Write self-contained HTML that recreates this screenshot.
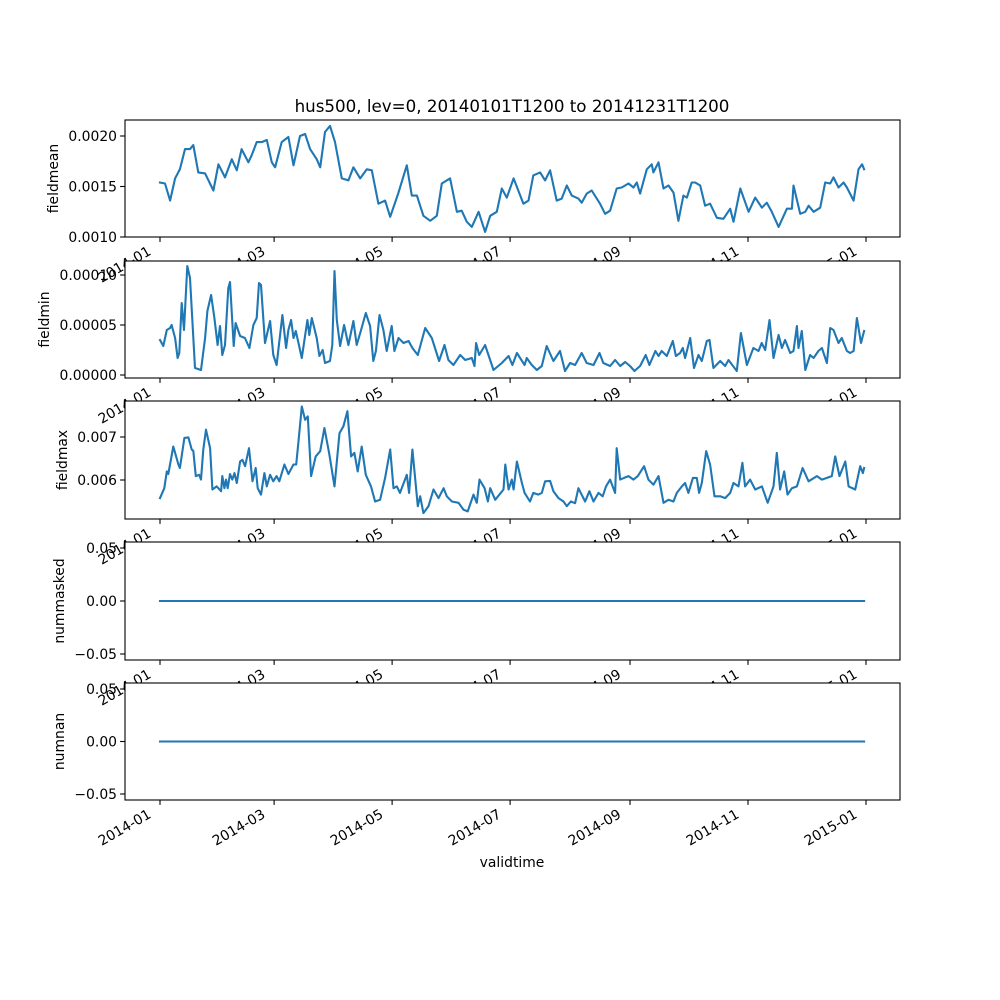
<!DOCTYPE html>
<html><head><meta charset="utf-8"><style>body{margin:0;background:#fff}svg{display:block;font-family:"DejaVu Sans","Liberation Sans",sans-serif}</style></head>
<body>
<svg id="fig" width="1000" height="1000" viewBox="0 0 1000 1000">
<rect width="1000" height="1000" fill="#fff"/>
</svg>
<script>
// fieldmean (units 1e-4)
const meanDays=[0,2.6,5.2,7.8,10.3,12.9,15.5,17.2,19.8,23.3,27.6,30.2,33.6,37.1,39.7,42.2,45.7,47.4,50,52.6,55.2,57.8,59.5,62.9,66.4,69,72.4,75,77.6,81,82.8,85.3,87.9,90.5,94,97.4,100,103.5,106.9,109.5,112.9,116.4,119,123.3,127.6,130.2,132.8,136.2,139.7,143.1,145.7,150,153.5,156,158.6,161.2,164.7,168.1,170.7,174.1,176.7,179.3,182.8,187.9,190.5,193,196.5,199.1,201.7,205.1,207.7,210.3,212.9,216.3,218,220.6,223.2,227.5,230.1,232.7,236.1,238.7,242.2,244.8,246.5,248.2,251.7,254.2,255.1,257.7,260.3,262.9,265.5,268,270.6,272.4,274.9,276.7,279.3,281.8,284.4,287.9,291.3,294.8,296.5,300,304.3,307.7,311.2,313.7,316.3,319.8,324.1,326.7,327.5,331,333.6,335.3,337.9,341.3,343.9,346.5,348.2,350.8,353.4,355.1,358.6,361.1,363,364];
const meanVals=[15.4,15.3,13.6,15.8,16.7,18.7,18.7,19.1,16.4,16.3,14.6,17.2,15.9,17.7,16.6,18.7,17.4,18.1,19.4,19.4,19.6,17.4,16.9,19.4,19.9,17.1,20.0,20.2,18.7,17.7,16.9,20.4,21.0,19.4,15.8,15.6,16.9,15.8,16.7,16.6,13.3,13.6,12.0,14.4,17.1,14.1,14.1,12.1,11.6,12.1,15.3,15.8,12.5,12.6,11.5,11.0,12.5,10.5,12.1,12.5,14.8,13.9,15.8,13.3,13.6,16.1,16.4,15.6,16.6,13.6,13.8,15.1,14.1,13.8,13.4,14.3,14.6,13.3,12.3,12.6,14.8,14.9,15.3,14.9,15.4,14.3,16.7,17.2,16.4,17.4,14.8,15.1,14.4,11.6,14.1,13.9,15.4,15.4,15.1,13.1,13.3,11.9,11.8,12.8,11.5,14.8,12.5,13.9,12.9,13.4,12.5,11.0,12.8,12.8,15.1,12.3,12.5,13.1,12.5,12.9,15.4,15.3,15.9,14.9,15.4,14.9,13.6,16.7,17.2,16.7];
// fieldmin (units 1e-5)
const minDays=[0,1.7,3.5,5.2,6,7.8,9.1,10,11.2,12.4,14.1,15.5,18.1,21.2,23.3,24.5,26.4,28.1,29.8,31,32.2,33.6,35.3,36.2,38.1,39.1,41.4,43.9,46.2,48.3,50,51.2,52.2,54.3,56.9,58.6,60.3,63.3,65.2,66.4,67.8,69,70.2,73.3,76.2,77.2,78.5,81,82.4,84.1,85.3,87.9,89.1,90.2,91.4,93.1,95.2,97.4,100,101.7,103.8,106.4,108.6,110.3,111.6,113.5,115.5,117.2,119.8,121.2,123.3,125.9,128.5,130.5,133.3,137.1,140.5,144.3,147.1,149.1,151.7,155.2,157.8,161.2,162.6,163.4,165,168.1,172.4,176.7,180.2,182.2,184.5,188.5,189.6,192.2,194.8,197.4,199.9,203.4,206.8,209.4,212,214.6,218,220.6,224.1,227.2,229.2,232.7,235.3,237.9,240.5,243,245.3,248.2,251.1,253,256.1,257.7,259.4,262,265.1,266.7,268.9,270.3,271.5,274.1,276.1,278.4,280.1,282.7,284.1,286.1,289.6,292.2,293.9,298.2,300.3,303.4,306.8,309.4,311.1,312.9,315.1,317.2,319.8,321.5,323.2,325.8,327.5,329.3,330.1,331.8,333.6,336.1,337.9,340.4,342.2,344.8,346.5,348.2,350.8,352.5,355.1,356.8,358.6,360.3,362.4,364];
const minVals=[3.5,2.9,4.5,4.7,5.0,3.7,1.7,2.2,7.2,4.5,10.9,9.7,0.7,0.5,3.7,6.4,8.0,5.7,3.0,4.9,2.0,3.0,8.7,9.3,2.9,5.2,3.9,3.7,2.7,5.0,5.7,9.2,9.0,3.2,5.4,2.0,1.0,6.0,2.7,4.5,5.5,3.7,4.4,1.7,5.5,4.0,5.7,3.7,1.9,2.5,1.2,1.4,3.0,10.4,5.5,2.9,5.0,3.0,5.4,3.0,4.4,6.2,4.9,1.4,2.4,6.0,4.5,2.4,4.9,2.4,3.7,3.2,3.4,2.7,2.0,4.7,3.7,1.4,3.0,1.5,1.0,2.0,1.5,1.7,0.9,3.2,2.0,3.0,0.5,1.2,1.9,1.0,2.2,1.0,1.7,1.0,0.5,0.9,2.9,1.4,2.4,0.4,1.2,1.0,2.2,1.2,1.0,2.2,1.2,0.9,1.5,0.9,1.3,0.9,0.4,0.9,2.0,1.0,2.4,1.9,2.4,1.9,3.4,1.9,2.2,2.7,1.7,3.7,0.7,2.0,1.4,3.4,3.5,0.7,1.4,0.9,1.5,0.4,4.2,1.0,2.7,2.4,3.2,2.5,5.5,1.7,4.0,2.7,3.5,2.2,2.4,4.9,2.7,4.4,0.5,2.0,1.7,2.4,2.7,1.2,4.7,4.5,3.2,3.7,2.4,2.2,2.4,5.7,3.2,4.4];
// fieldmax (units 1e-3)
const maxDays=[0,2.2,3.5,4.3,6.9,9.5,10.3,12.6,14.7,16.4,17.2,18.5,20.2,21.2,22.4,23.8,25.9,27.1,29.3,31.6,32.2,33.3,34.1,35,36.2,37.4,38.5,39.7,41.4,42.6,44,46,47.8,49.5,50.5,52.2,54,55.2,56.9,58.6,60.3,61.7,64.3,66.4,69,70.4,71.6,73.3,75,76.4,78.1,80.5,82.8,85,87.4,90.2,92.8,94.8,96.9,98.8,100.5,102.2,104.3,106.4,109.1,111.2,113.8,116.4,119,120.7,122.4,124.1,127.6,128.8,130.5,133.3,134.5,136.2,138.8,141.4,144,146.6,148.3,150.9,154.3,156.9,159.1,162.1,163.8,165.2,167.8,169.5,170.7,173.3,177.6,178.5,180.2,181.9,182.8,184.5,187.1,188.5,191.3,193,195.6,197.4,199.1,201.7,203.4,206,208.6,210.3,212.4,214.6,216.3,219.8,222,224.1,226.7,228.9,230.6,232.7,235.3,236.1,237.9,239.9,242.2,244.8,247,250.3,252.5,255.1,257.7,260.3,262.9,265.5,267.2,269.8,271.5,273.2,275.5,277.5,278.7,280.1,282.4,284.4,286.7,289.6,292.2,294.8,296.5,299.1,301.1,302.5,305.1,307.7,311.2,314.2,317.2,318.9,320.6,322.7,324.4,326.7,329.3,332.2,335.3,339.6,342.2,344.8,347.3,349.1,351.3,354.3,356,359.4,362,363.4,364];
const maxVals=[5.58,5.81,6.2,6.14,6.78,6.36,6.28,6.98,6.99,6.71,6.68,6.09,6.12,6.01,6.71,7.17,6.74,5.78,5.85,5.74,6.09,5.81,6.01,5.81,6.14,6.01,6.16,5.93,6.43,6.47,6.32,6.74,5.97,6.28,5.81,5.66,6.16,5.85,6.12,5.97,6.09,5.97,6.36,6.14,6.36,6.36,6.9,7.71,7.4,7.48,6.09,6.55,6.67,7.21,6.63,5.85,7.09,7.25,7.6,6.55,6.63,6.2,6.78,6.12,5.85,5.5,5.54,6.05,6.71,5.81,5.85,5.7,6.12,5.7,6.71,5.39,5.62,5.23,5.39,5.78,5.58,5.81,5.62,5.5,5.47,5.31,5.27,5.66,5.47,6.01,5.81,5.5,5.81,5.54,5.78,6.36,5.78,6.01,5.78,6.43,5.93,5.7,5.5,5.7,5.66,5.7,5.97,5.98,5.74,5.58,5.5,5.39,5.5,5.46,5.81,5.5,5.74,5.5,5.7,5.62,5.85,6.01,5.7,6.74,6.01,6.05,6.09,6.01,6.09,6.32,6.01,5.89,6.09,5.47,5.54,5.5,5.7,5.85,5.93,5.7,6.05,6.05,5.7,5.93,6.67,6.36,5.62,5.62,5.58,5.7,5.93,5.85,6.4,5.85,6.01,5.78,5.85,5.47,5.85,6.63,5.78,6.2,5.66,5.81,5.85,6.28,5.97,6.09,6.01,6.05,6.09,6.55,6.09,6.43,5.85,5.78,6.32,6.16,6.28];
const flatDays=[0,364];
const maskedVals=[0,0];
const nanVals=[0,0];
const xTickDays=[0,59,120,181,243,304,365];
const xTickLabels=["2014-01","2014-03","2014-05","2014-07","2014-09","2014-11","2015-01"];

const NS="http://www.w3.org/2000/svg";
const svg=document.getElementById('fig');
function mk(tag,attrs,parent){const e=document.createElementNS(NS,tag);for(const k in attrs)e.setAttribute(k,attrs[k]);(parent||svg).appendChild(e);return e;}
const L=125,R=900;
function xs(d){return 160+d*(866-160)/365;}

const panels=[
 {name:'fieldmean',top:120,bot:237,days:meanDays,vals:meanVals,scale:1e-4,y0:0.0010,y0px:237,y1:0.0020,y1px:136,ticks:[0.0010,0.0015,0.0020],fmt:v=>v.toFixed(4),lx:53},
 {name:'fieldmin',top:261,bot:378,days:minDays,vals:minVals,scale:1e-5,y0:0,y0px:375,y1:0.0001,y1px:275,ticks:[0,0.00005,0.0001],fmt:v=>v.toFixed(5),lx:44},
 {name:'fieldmax',top:401,bot:519,days:maxDays,vals:maxVals,scale:1e-3,y0:0.006,y0px:480,y1:0.007,y1px:437,ticks:[0.006,0.007],fmt:v=>v.toFixed(3),lx:62},
 {name:'nummasked',top:542,bot:660,days:flatDays,vals:maskedVals,scale:1,y0:-0.05,y0px:654,y1:0.05,y1px:548,ticks:[-0.05,0,0.05],fmt:v=>(v<0?'\u2212':'')+Math.abs(v).toFixed(2),lx:59},
 {name:'numnan',top:683,bot:800,days:flatDays,vals:nanVals,scale:1,y0:-0.05,y0px:794,y1:0.05,y1px:689,ticks:[-0.05,0,0.05],fmt:v=>(v<0?'\u2212':'')+Math.abs(v).toFixed(2),lx:59}
];

panels.forEach(p=>{
  const ys=v=>p.y0px+(v-p.y0)*(p.y1px-p.y0px)/(p.y1-p.y0);
  const g=mk('g',{});
  
  
  const bg=mk('rect',{x:L,y:p.top,width:R-L,height:p.bot-p.top,fill:'#fff'},g);
  
  
  let d='';
  p.days.forEach((dd,i)=>{d+=(i?'L':'M')+xs(dd).toFixed(1)+','+ys(p.vals[i]*p.scale).toFixed(1);});
  const ln=mk('path',{d:d,fill:'none',stroke:'#1f77b4','stroke-width':2.1,'stroke-linejoin':'round','stroke-linecap':'square'},g);
  
  
  const fr=mk('rect',{x:L,y:p.top,width:R-L,height:p.bot-p.top,fill:'none',stroke:'#000','stroke-width':1.1},g);
  
  
  p.ticks.forEach(t=>{
    const y=ys(t);
    const tk=mk('line',{x1:L-4.9,x2:L,y1:y,y2:y,stroke:'#000','stroke-width':1.1},g);
    
    
    const tx=mk('text',{x:L-8,y:y+5,'text-anchor':'end','font-size':13.9,fill:'#000'},g);
    tx.textContent=p.fmt(t);
    
    
  });
  xTickDays.forEach((dd,i)=>{
    const x=xs(dd);
    const tk=mk('line',{x1:x,x2:x,y1:p.bot,y2:p.bot+4.9,stroke:'#000','stroke-width':1.1},g);
    
    
    const tx=mk('text',{x:0,y:0,'text-anchor':'end','font-size':13.9,fill:'#000',transform:`translate(${x-8},${p.bot+17}) rotate(-30)`},g);
    tx.textContent=xTickLabels[i];
    
    
  });
  const cy=(p.top+p.bot)/2;
  const yl=mk('text',{x:0,y:0,'text-anchor':'middle','font-size':13.9,fill:'#000',transform:`translate(${p.lx+5},${cy}) rotate(-90)`},g);
  yl.textContent=p.name;
  
  
});
const title=mk('text',{x:512,y:112,'text-anchor':'middle','font-size':16.7,fill:'#000'});
title.textContent='hus500, lev=0, 20140101T1200 to 20141231T1200';


const xl=mk('text',{x:512,y:867,'text-anchor':'middle','font-size':13.9,fill:'#000'});
xl.textContent='validtime';


</script>
</body></html>
